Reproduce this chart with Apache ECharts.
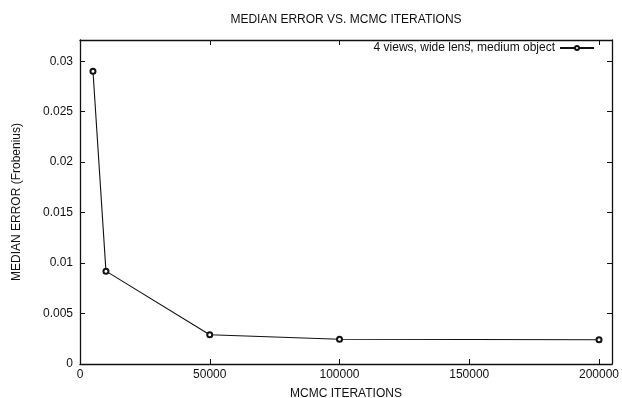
<!DOCTYPE html>
<html>
<head>
<meta charset="utf-8">
<script src="https://cdn.jsdelivr.net/npm/echarts@6/dist/echarts.min.js"></script>
<style>html,body{margin:0;padding:0;background:#fff}#c{width:622px;height:398px}</style>
</head>
<body>
<div id="c"></div>
<script>
const iterations = [5000, 10000, 50000, 100000, 200000];
const medianError = [0.0290, 0.0092, 0.0029, 0.00245, 0.0024];
const seriesName = '4 views, wide lens, medium object';
const xTicks = [0, 50000, 100000, 150000, 200000];
const yTickLabels = {0: '0', 0.005: '0.005', 0.01: '0.01', 0.015: '0.015', 0.02: '0.02', 0.025: '0.025', 0.03: '0.03'};

const FONT = 'Liberation Sans, Arial, sans-serif';
const chart = echarts.init(document.getElementById('c'));
const axisLine = {show: true, onZero: false, lineStyle: {color: '#111', width: 1.3}};
const tick = {show: true, inside: true, length: 5, lineStyle: {color: '#111', width: 1}};
const lbl = {color: '#111', fontFamily: FONT, fontSize: 12};
chart.setOption({
  animation: false,
  backgroundColor: '#fff',
  title: {
    text: 'MEDIAN ERROR VS. MCMC ITERATIONS',
    left: 346, top: 14, textAlign: 'center', padding: 0,
    textStyle: {fontFamily: FONT, fontSize: 12, fontWeight: 'normal', color: '#111'}
  },
  legend: {
    data: [seriesName],
    right: 27, top: 42, align: 'right', padding: 0,
    itemWidth: 34, itemHeight: 5, itemGap: 6,
    textStyle: {fontFamily: FONT, fontSize: 12, color: '#111'}
  },
  grid: {left: 80, right: 10, top: 40, bottom: 34, containLabel: false, outerBoundsMode: 'none'},
  xAxis: [{
    type: 'value', min: 0, max: 205000, interval: 50000,
    position: 'bottom',
    name: 'MCMC ITERATIONS', nameLocation: 'middle', nameGap: 24,
    nameTextStyle: {fontFamily: FONT, fontSize: 12, color: '#111'},
    axisLine: axisLine, axisTick: tick, splitLine: {show: false},
    axisLabel: Object.assign({margin: 5, formatter: v => xTicks.includes(v) ? String(v) : ''}, lbl)
  }, {
    type: 'value', min: 0, max: 205000, interval: 50000, position: 'top',
    axisLine: axisLine, axisTick: tick, splitLine: {show: false}, axisLabel: {show: false}
  }],
  yAxis: [{
    type: 'value', min: 0, max: 0.0321, interval: 0.005,
    position: 'left',
    name: 'MEDIAN ERROR (Frobenius)', nameLocation: 'middle', nameGap: 57,
    nameTextStyle: {fontFamily: FONT, fontSize: 12, color: '#111'},
    axisLine: axisLine, axisTick: tick, splitLine: {show: false},
    axisLabel: Object.assign({margin: 7, formatter: v => {
      const k = Math.round(v * 1000) / 1000;
      return yTickLabels[k] !== undefined ? yTickLabels[k] : '';
    }}, lbl)
  }, {
    type: 'value', min: 0, max: 0.0321, interval: 0.005, position: 'right',
    axisLine: axisLine, axisTick: tick, splitLine: {show: false}, axisLabel: {show: false}
  }],
  series: [{
    name: seriesName,
    type: 'line',
    data: iterations.map((x, i) => [x, medianError[i]]),
    symbol: 'emptyCircle', symbolSize: 5,
    lineStyle: {color: '#111', width: 1.1},
    itemStyle: {color: '#111', borderWidth: 1}
  }]
});
</script>
</body>
</html>
